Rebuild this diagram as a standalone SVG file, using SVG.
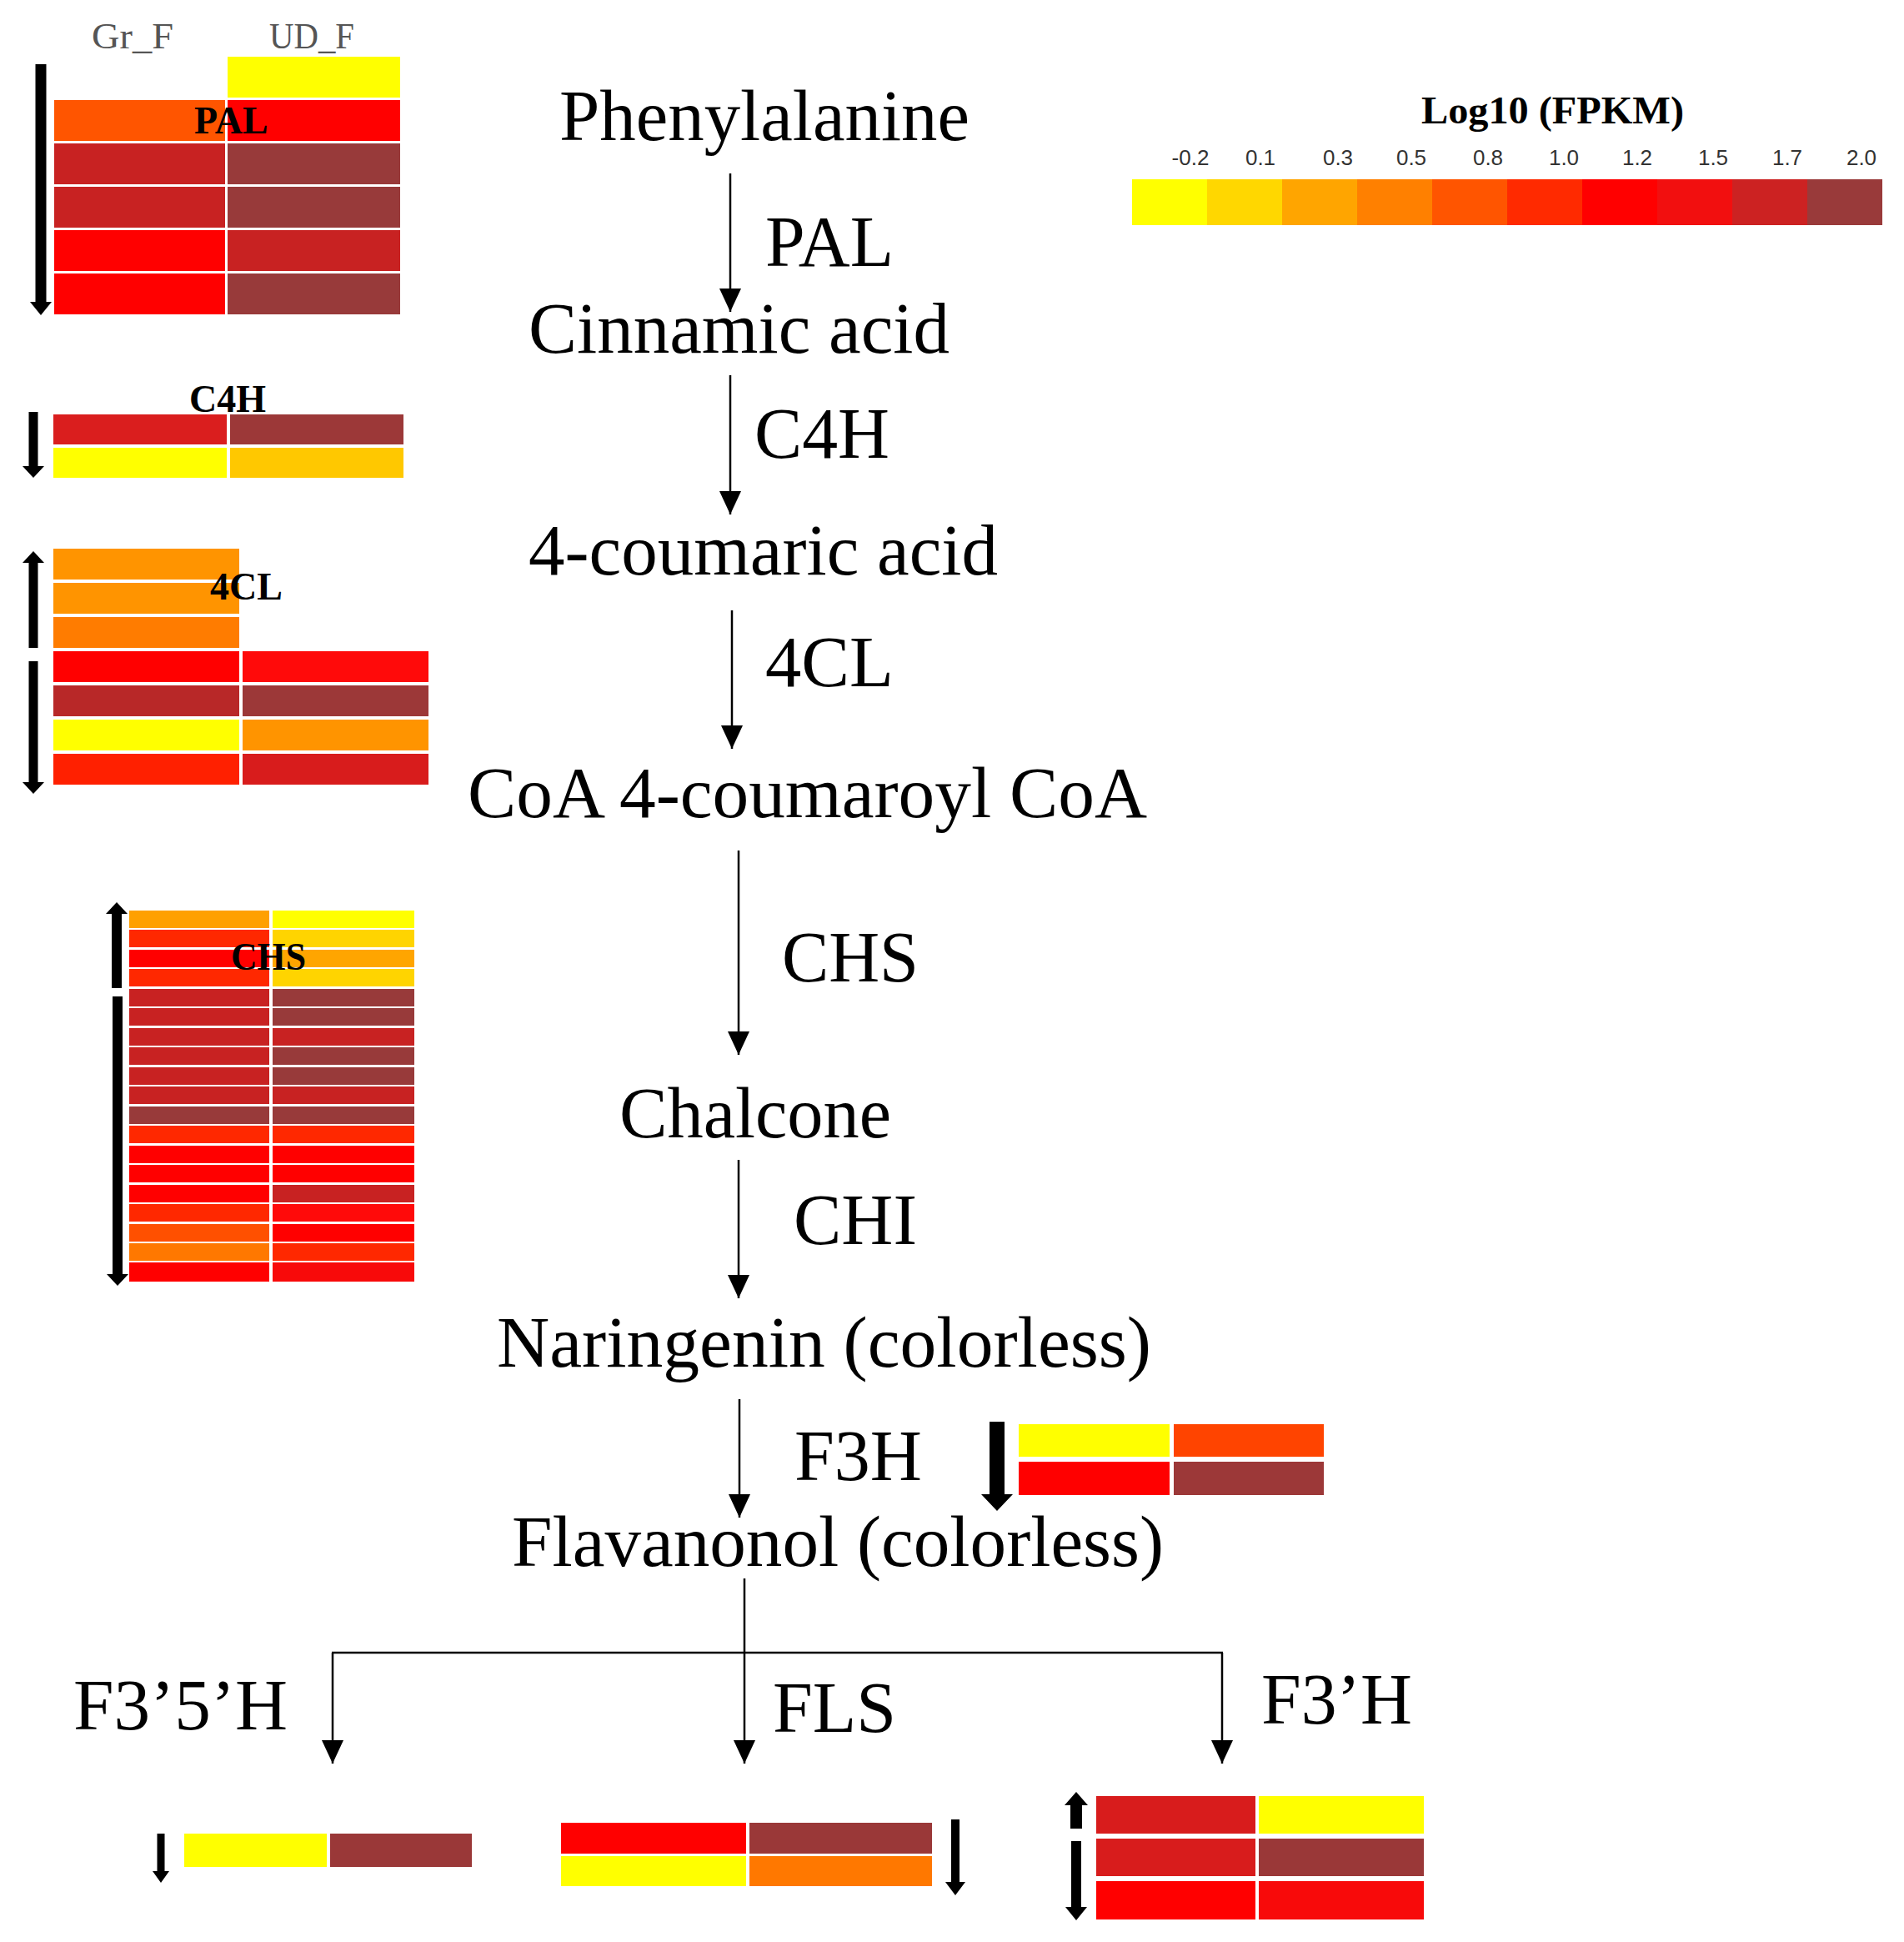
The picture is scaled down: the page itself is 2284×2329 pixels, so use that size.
<svg xmlns="http://www.w3.org/2000/svg" width="2284" height="2329" viewBox="0 0 2284 2329">
<style>
.t{font-family:"Liberation Serif","Times New Roman",serif;font-size:86px;fill:#000}
.hb{font-family:"Liberation Serif","Times New Roman",serif;font-weight:bold;font-size:46px;fill:#000}
.col{font-family:"Liberation Serif","Times New Roman",serif;font-size:44px;fill:#555}
.ttl{font-family:"Liberation Serif","Times New Roman",serif;font-weight:bold;font-size:47px;fill:#000}
.lg{font-family:"Liberation Sans",Arial,sans-serif;font-size:26px;fill:#333;text-anchor:middle}
.conn{stroke:#000;stroke-width:2.5;fill:none}
.ar{fill:#000}
</style>
<defs>
<marker id="ah" markerUnits="userSpaceOnUse" markerWidth="28" markerHeight="26" viewBox="0 0 28 26" refX="28" refY="13" orient="auto">
<path d="M0,0 L28,13 L0,26 Z" fill="#000"/>
</marker>
</defs>
<rect width="2284" height="2329" fill="#fff"/>

<!-- legend -->
<g id="legend">
<text class="ttl" x="1705" y="148" textLength="315" lengthAdjust="spacingAndGlyphs">Log10 (FPKM)</text>
<text class="lg" x="1428" y="198">-0.2</text>
<text class="lg" x="1512" y="198">0.1</text>
<text class="lg" x="1605" y="198">0.3</text>
<text class="lg" x="1693" y="198">0.5</text>
<text class="lg" x="1785" y="198">0.8</text>
<text class="lg" x="1876" y="198">1.0</text>
<text class="lg" x="1964" y="198">1.2</text>
<text class="lg" x="2055" y="198">1.5</text>
<text class="lg" x="2144" y="198">1.7</text>
<text class="lg" x="2233" y="198">2.0</text>
<rect x="1358" y="215" width="90" height="55" fill="#FFFF00"/>
<rect x="1448" y="215" width="90" height="55" fill="#FFD700"/>
<rect x="1538" y="215" width="90" height="55" fill="#FFA500"/>
<rect x="1628" y="215" width="90" height="55" fill="#FF8000"/>
<rect x="1718" y="215" width="90" height="55" fill="#FF5500"/>
<rect x="1808" y="215" width="90" height="55" fill="#FF2A00"/>
<rect x="1898" y="215" width="90" height="55" fill="#FF0000"/>
<rect x="1988" y="215" width="90" height="55" fill="#F20F0F"/>
<rect x="2078" y="215" width="90" height="55" fill="#CC2222"/>
<rect x="2168" y="215" width="90" height="55" fill="#993A3A"/>
</g>

<!-- column headers -->
<g id="col-headers">
<text class="col" x="110" y="58" textLength="98" lengthAdjust="spacingAndGlyphs">Gr_F</text>
<text class="col" x="323" y="58" textLength="102" lengthAdjust="spacingAndGlyphs">UD_F</text>
</g>

<!-- PAL heatmap -->
<g id="heat-PAL">
<rect x="273" y="68" width="207" height="49" fill="#FFFF00"/>
<rect x="65" y="120" width="205" height="49" fill="#FF5500"/>
<rect x="273" y="120" width="207" height="49" fill="#FF0000"/>
<rect x="65" y="172" width="205" height="49" fill="#C82222"/>
<rect x="273" y="172" width="207" height="49" fill="#983A3A"/>
<rect x="65" y="224" width="205" height="49" fill="#C82222"/>
<rect x="273" y="224" width="207" height="49" fill="#983A3A"/>
<rect x="65" y="276" width="205" height="49" fill="#FF0000"/>
<rect x="273" y="276" width="207" height="49" fill="#C82222"/>
<rect x="65" y="328" width="205" height="49" fill="#FF0000"/>
<rect x="273" y="328" width="207" height="49" fill="#983A3A"/>
<text class="hb" x="233" y="160">PAL</text>
<path class="ar" d="M42.5,77 L55.5,77 L55.5,362 L62,362 L49,378 L36,362 L42.5,362 Z"/>
</g>

<!-- C4H heatmap -->
<g id="heat-C4H">
<rect x="64" y="497" width="208" height="36" fill="#DA1E1E"/>
<rect x="276" y="497" width="208" height="36" fill="#9C3838"/>
<rect x="64" y="537" width="208" height="36" fill="#FFFF00"/>
<rect x="276" y="537" width="208" height="36" fill="#FFC800"/>
<text class="hb" x="227" y="494">C4H</text>
<path class="ar" d="M34.5,494 L45.5,494 L45.5,559 L53,559 L40,573 L27,559 L34.5,559 Z"/>
</g>

<!-- 4CL heatmap -->
<g id="heat-4CL">
<rect x="64" y="658" width="223" height="37" fill="#FF9400"/>
<rect x="64" y="699" width="223" height="37" fill="#FF9400"/>
<rect x="64" y="740" width="223" height="37" fill="#FF7C00"/>
<rect x="64" y="781" width="223" height="37" fill="#FF0000"/>
<rect x="291" y="781" width="223" height="37" fill="#FF0A0A"/>
<rect x="64" y="822" width="223" height="37" fill="#B82828"/>
<rect x="291" y="822" width="223" height="37" fill="#9C3838"/>
<rect x="64" y="863" width="223" height="37" fill="#FFFF00"/>
<rect x="291" y="863" width="223" height="37" fill="#FF9400"/>
<rect x="64" y="904" width="223" height="37" fill="#FF2000"/>
<rect x="291" y="904" width="223" height="37" fill="#D81C1C"/>
<text class="hb" x="252" y="719">4CL</text>
<path class="ar" d="M40,661 L53,675 L45.5,675 L45.5,777 L34.5,777 L34.5,675 L27,675 Z"/>
<path class="ar" d="M34.5,793 L45.5,793 L45.5,938 L53,938 L40,952 L27,938 L34.5,938 Z"/>
</g>

<!-- CHS heatmap -->
<g id="heat-CHS">
<rect x="155" y="1092" width="168" height="21" fill="#FFA000"/><rect x="327" y="1092" width="170" height="21" fill="#FFFF00"/>
<rect x="155" y="1115" width="168" height="21" fill="#FF2800"/><rect x="327" y="1115" width="170" height="21" fill="#FFD400"/>
<rect x="155" y="1139" width="168" height="21" fill="#FF0000"/><rect x="327" y="1139" width="170" height="21" fill="#FFA500"/>
<rect x="155" y="1162" width="168" height="21" fill="#FF2800"/><rect x="327" y="1162" width="170" height="21" fill="#FFD400"/>
<rect x="155" y="1186" width="168" height="21" fill="#C82222"/><rect x="327" y="1186" width="170" height="21" fill="#983A3A"/>
<rect x="155" y="1209" width="168" height="21" fill="#C82222"/><rect x="327" y="1209" width="170" height="21" fill="#983A3A"/>
<rect x="155" y="1233" width="168" height="21" fill="#C82222"/><rect x="327" y="1233" width="170" height="21" fill="#C82222"/>
<rect x="155" y="1256" width="168" height="21" fill="#C82222"/><rect x="327" y="1256" width="170" height="21" fill="#983A3A"/>
<rect x="155" y="1280" width="168" height="21" fill="#C82222"/><rect x="327" y="1280" width="170" height="21" fill="#983A3A"/>
<rect x="155" y="1303" width="168" height="21" fill="#C82222"/><rect x="327" y="1303" width="170" height="21" fill="#C82222"/>
<rect x="155" y="1327" width="168" height="21" fill="#983A3A"/><rect x="327" y="1327" width="170" height="21" fill="#983A3A"/>
<rect x="155" y="1350" width="168" height="21" fill="#FF2800"/><rect x="327" y="1350" width="170" height="21" fill="#FF2800"/>
<rect x="155" y="1374" width="168" height="21" fill="#FF0000"/><rect x="327" y="1374" width="170" height="21" fill="#FF0000"/>
<rect x="155" y="1397" width="168" height="21" fill="#FF0000"/><rect x="327" y="1397" width="170" height="21" fill="#FF0000"/>
<rect x="155" y="1421" width="168" height="21" fill="#FF0000"/><rect x="327" y="1421" width="170" height="21" fill="#C82222"/>
<rect x="155" y="1444" width="168" height="21" fill="#FF2800"/><rect x="327" y="1444" width="170" height="21" fill="#FF0A0A"/>
<rect x="155" y="1468" width="168" height="21" fill="#FF5000"/><rect x="327" y="1468" width="170" height="21" fill="#FF0000"/>
<rect x="155" y="1491" width="168" height="21" fill="#FF7800"/><rect x="327" y="1491" width="170" height="21" fill="#FF2800"/>
<rect x="155" y="1514" width="168" height="23" fill="#FF0000"/><rect x="327" y="1514" width="170" height="23" fill="#F80A0A"/>
<text class="hb" x="277" y="1163" textLength="90" lengthAdjust="spacingAndGlyphs">CHS</text>
<path class="ar" d="M140,1082 L153,1096 L146,1096 L146,1185 L134,1185 L134,1096 L127,1096 Z"/>
<path class="ar" d="M135,1195 L147,1195 L147,1528 L154,1528 L141,1542 L128,1528 L135,1528 Z"/>
</g>

<!-- F3H heatmap -->
<g id="heat-F3H">
<rect x="1222" y="1708" width="181" height="39" fill="#FFFF00"/>
<rect x="1408" y="1708" width="180" height="39" fill="#FF4400"/>
<rect x="1222" y="1753" width="181" height="40" fill="#FF0000"/>
<rect x="1408" y="1753" width="180" height="40" fill="#9C3838"/>
<path class="ar" d="M1187,1705 L1205,1705 L1205,1792 L1215,1792 L1196,1812 L1177,1792 L1187,1792 Z"/>
</g>

<!-- F3'5'H heatmap -->
<g id="heat-F35H">
<rect x="221" y="2199" width="171" height="40" fill="#FFFF00"/>
<rect x="396" y="2199" width="170" height="40" fill="#9A3838"/>
<path class="ar" d="M188.5,2199 L197.5,2199 L197.5,2244 L203,2244 L193,2258 L183,2244 L188.5,2244 Z"/>
</g>

<!-- FLS heatmap -->
<g id="heat-FLS">
<rect x="673" y="2186" width="222" height="37" fill="#FF0000"/>
<rect x="899" y="2186" width="219" height="37" fill="#9A3838"/>
<rect x="673" y="2226" width="222" height="36" fill="#FFFF00"/>
<rect x="899" y="2226" width="219" height="36" fill="#FF7800"/>
<path class="ar" d="M1141,2182 L1151,2182 L1151,2257 L1158,2257 L1146,2273 L1134,2257 L1141,2257 Z"/>
</g>

<!-- F3'H heatmap -->
<g id="heat-F3pH">
<rect x="1315" y="2154" width="191" height="45" fill="#D81C1C"/>
<rect x="1510" y="2154" width="198" height="45" fill="#FFFF00"/>
<rect x="1315" y="2205" width="191" height="45" fill="#D81C1C"/>
<rect x="1510" y="2205" width="198" height="45" fill="#9A3838"/>
<rect x="1315" y="2256" width="191" height="46" fill="#FF0000"/>
<rect x="1510" y="2256" width="198" height="46" fill="#F80A0A"/>
<path class="ar" d="M1291,2149 L1305,2165 L1298,2165 L1298,2193 L1284,2193 L1284,2165 L1277,2165 Z"/>
<path class="ar" d="M1285,2208 L1297,2208 L1297,2287 L1304,2287 L1291,2303 L1278,2287 L1285,2287 Z"/>
</g>

<!-- compound nodes -->
<g id="node-phenylalanine"><text class="t" x="671" y="168" textLength="492" lengthAdjust="spacingAndGlyphs">Phenylalanine</text></g>
<g id="node-cinnamic"><text class="t" x="634" y="423" textLength="505" lengthAdjust="spacingAndGlyphs">Cinnamic acid</text></g>
<g id="node-coumaric"><text class="t" x="634" y="689" textLength="563" lengthAdjust="spacingAndGlyphs">4-coumaric acid</text></g>
<g id="node-coumaroylcoa"><text class="t" x="561" y="980" textLength="815" lengthAdjust="spacingAndGlyphs">CoA 4-coumaroyl CoA</text></g>
<g id="node-chalcone"><text class="t" x="743" y="1364" textLength="326" lengthAdjust="spacingAndGlyphs">Chalcone</text></g>
<g id="node-naringenin"><text class="t" x="596" y="1639" textLength="785" lengthAdjust="spacingAndGlyphs">Naringenin (colorless)</text></g>
<g id="node-flavanonol"><text class="t" x="614" y="1878" textLength="782" lengthAdjust="spacingAndGlyphs">Flavanonol (colorless)</text></g>

<!-- enzyme labels -->
<g id="enzyme-labels">
<text class="t" x="918" y="319" textLength="154" lengthAdjust="spacingAndGlyphs">PAL</text>
<text class="t" x="905" y="549" textLength="162" lengthAdjust="spacingAndGlyphs">C4H</text>
<text class="t" x="918" y="823" textLength="154" lengthAdjust="spacingAndGlyphs">4CL</text>
<text class="t" x="938" y="1177" textLength="164" lengthAdjust="spacingAndGlyphs">CHS</text>
<text class="t" x="952" y="1492" textLength="148" lengthAdjust="spacingAndGlyphs">CHI</text>
<text class="t" x="953" y="1775" textLength="153" lengthAdjust="spacingAndGlyphs">F3H</text>
<text class="t" x="88" y="2074" textLength="257" lengthAdjust="spacingAndGlyphs">F3’5’H</text>
<text class="t" x="927" y="2077" textLength="148" lengthAdjust="spacingAndGlyphs">FLS</text>
<text class="t" x="1513" y="2067" textLength="181" lengthAdjust="spacingAndGlyphs">F3’H</text>
</g>

<!-- connectors -->
<g id="connectors">
<line class="conn" x1="876" y1="208" x2="876" y2="374" marker-end="url(#ah)"/>
<line class="conn" x1="876" y1="450" x2="876" y2="617" marker-end="url(#ah)"/>
<line class="conn" x1="878" y1="732" x2="878" y2="898" marker-end="url(#ah)"/>
<line class="conn" x1="886" y1="1020" x2="886" y2="1265" marker-end="url(#ah)"/>
<line class="conn" x1="886" y1="1391" x2="886" y2="1557" marker-end="url(#ah)"/>
<line class="conn" x1="887" y1="1678" x2="887" y2="1820" marker-end="url(#ah)"/>
<line class="conn" x1="893" y1="1893" x2="893" y2="2115" marker-end="url(#ah)"/>
<line class="conn" x1="398" y1="1982" x2="1467" y2="1982"/>
<line class="conn" x1="399" y1="1982" x2="399" y2="2115" marker-end="url(#ah)"/>
<line class="conn" x1="1466" y1="1982" x2="1466" y2="2115" marker-end="url(#ah)"/>
</g>
</svg>
